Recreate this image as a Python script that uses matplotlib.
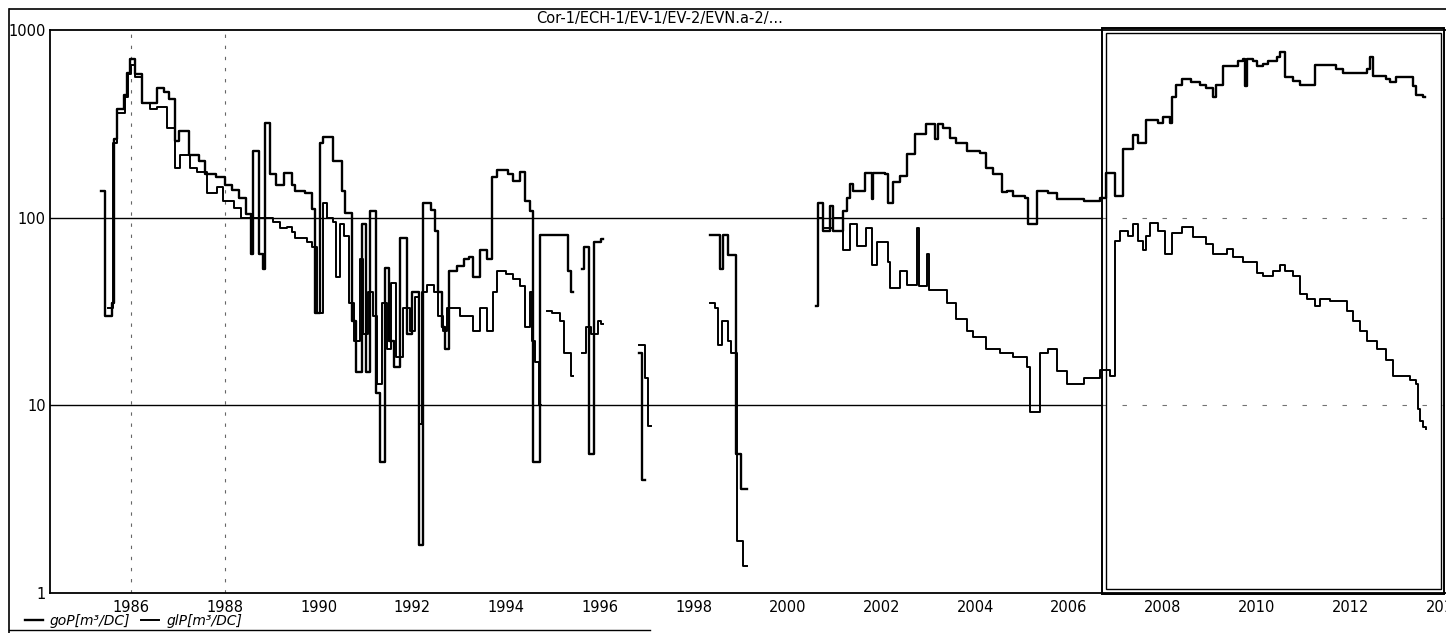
import numpy as np
import matplotlib
matplotlib.use("Agg")
import matplotlib.pyplot as plt
from matplotlib.lines import Line2D
from matplotlib.patches import Rectangle
import matplotlib.transforms as mtransforms

nan = np.nan

# goP [m3/DC] - step series, nan = no data
gop_year = [1985.35, 1985.45, 1985.60, 1985.64, 1985.70, 1985.84, 1985.92, 1985.98, 1986.09, 1986.23,
            1986.55, 1986.70, 1986.80, 1986.94, 1987.02, 1987.24, 1987.45, 1987.58, 1987.80, 1988.00,
            1988.15, 1988.30, 1988.45, 1988.55, 1988.60, 1988.72, 1988.82, 1988.86, 1988.96, 1989.10,
            1989.25, 1989.43, 1989.50, 1989.70, 1989.85, 1989.92, 1990.03, 1990.10, 1990.31, 1990.49,
            1990.56, 1990.71, 1990.80, 1990.92, 1991.00, 1991.10, 1991.22, 1991.30, 1991.42, 1991.50,
            1991.60, 1991.73, 1991.88, 1992.00, 1992.13, 1992.22, 1992.40, 1992.48, 1992.55, 1992.62,
            1992.70, 1992.78, 1992.95, 1993.10, 1993.20, 1993.30, 1993.44, 1993.58, 1993.69, 1993.80,
            1994.04, 1994.15, 1994.30, 1994.41, 1994.50, 1994.58, 1994.72, 1995.31, 1995.38, 1995.42, 1995.43,
            1995.61, 1995.66, 1995.76, 1995.87, 1996.02, 1996.05, 1996.06,
            1996.84, 1996.90, 1996.95, 1996.96,
            1998.34, 1998.56, 1998.62, 1998.72, 1998.90, 1999.00, 1999.12, 1999.13,
            2000.60, 2000.64, 2000.76, 2000.90, 2000.97, 2001.19, 2001.26, 2001.33, 2001.40, 2001.65,
            2001.79, 2001.83, 2002.07, 2002.14, 2002.25, 2002.40, 2002.54, 2002.72, 2002.96, 2003.14,
            2003.21, 2003.32, 2003.46, 2003.60, 2003.82, 2004.10, 2004.24, 2004.39, 2004.57, 2004.67,
            2004.81, 2005.06, 2005.13, 2005.31, 2005.56, 2005.74, 2006.31, 2006.66, 2006.80, 2006.98,
            2007.16, 2007.37, 2007.48, 2007.65, 2007.90, 2008.01, 2008.15, 2008.19, 2008.29, 2008.40,
            2008.61, 2008.79, 2008.93, 2009.07, 2009.14, 2009.29, 2009.61, 2009.71, 2009.75, 2009.80,
            2009.93, 2010.00, 2010.14, 2010.25, 2010.43, 2010.50, 2010.61, 2010.78, 2010.93, 2011.24,
            2011.70, 2011.85, 2012.35, 2012.42, 2012.49, 2012.77, 2012.84, 2012.98, 2013.34, 2013.41,
            2013.55, 2013.60]
gop_val = [139, 30, 35, 264, 380, 450, 590, 700, 580, 410,
           490, 470, 430, 257, 290, 215, 200, 170, 165, 150,
           140, 128, 105, 64, 227, 64, 53, 320, 170, 150,
           173, 150, 139, 135, 111, 31, 250, 270, 200, 139,
           106, 28, 15, 93, 15, 109, 11.6, 5, 54, 22,
           16, 78, 24, 40, 1.8, 120, 110, 85, 40, 26,
           20, 52, 55, 60, 62, 48, 67, 60, 165, 180,
           170, 157, 175, 123, 109, 5, 81, 52, 40, 40, nan,
           53, 70, 5.5, 74, 77, 77, nan,
           19, 4, 4, nan,
           81, 53, 81, 63, 5.5, 3.6, 3.6, nan,
           34, 119, 85, 116, 85, 109, 128, 152, 139, 174,
           126, 174, 170, 119, 154, 167, 218, 280, 315, 263,
           315, 300, 265, 250, 227, 222, 184, 170, 137, 139,
           131, 128, 92, 139, 135, 126, 123, 128, 173, 130,
           232, 275, 250, 330, 320, 345, 320, 440, 510, 550,
           530, 510, 490, 440, 510, 640, 680, 700, 500, 700,
           680, 640, 660, 680, 720, 760, 560, 535, 510, 650,
           620, 590, 620, 720, 570, 550, 530, 560, 500, 450,
           440, 440]

# glP [m3/DC]
glp_year = [1985.50, 1985.62, 1985.70, 1985.86, 1985.94, 1986.00, 1986.09, 1986.23, 1986.41, 1986.55,
            1986.76, 1986.94, 1987.04, 1987.26, 1987.40, 1987.61, 1987.83, 1987.95, 1988.20, 1988.35,
            1988.60, 1989.03, 1989.18, 1989.32, 1989.43, 1989.50, 1989.75, 1989.85, 1989.96, 1990.10,
            1990.17, 1990.30, 1990.36, 1990.45, 1990.55, 1990.65, 1990.75, 1990.88, 1990.95, 1991.05,
            1991.15, 1991.25, 1991.35, 1991.45, 1991.55, 1991.65, 1991.80, 1991.95, 1992.05, 1992.13,
            1992.20, 1992.30, 1992.45, 1992.55, 1992.66, 1992.73, 1993.02, 1993.30, 1993.45, 1993.58,
            1993.72, 1993.80, 1994.00, 1994.15, 1994.30, 1994.41, 1994.50, 1994.55, 1994.62, 1994.70,
            1994.74, 1994.75,
            1994.86, 1994.97, 1995.15, 1995.23, 1995.38, 1995.42, 1995.43,
            1995.61, 1995.70, 1995.80, 1995.95, 1996.02, 1996.05, 1996.06,
            1996.84, 1996.95, 1997.02, 1997.07, 1997.08,
            1998.34, 1998.45, 1998.52, 1998.60, 1998.72, 1998.79, 1998.92, 1999.05, 1999.12, 1999.13,
            2000.64, 2000.76, 2000.97, 2001.19, 2001.33, 2001.47, 2001.68, 2001.79, 2001.90, 2002.14,
            2002.18, 2002.40, 2002.54, 2002.75, 2002.80, 2002.97, 2003.02, 2003.39, 2003.60, 2003.82,
            2003.96, 2004.24, 2004.53, 2004.81, 2005.10, 2005.17, 2005.38, 2005.56, 2005.74, 2005.95,
            2006.31, 2006.66, 2006.87, 2006.98, 2007.09, 2007.26, 2007.37, 2007.48, 2007.58, 2007.65,
            2007.72, 2007.90, 2008.05, 2008.19, 2008.40, 2008.65, 2008.93, 2009.07, 2009.36, 2009.50,
            2009.71, 2010.00, 2010.14, 2010.36, 2010.50, 2010.61, 2010.78, 2010.93, 2011.07, 2011.24,
            2011.35, 2011.56, 2011.92, 2012.06, 2012.20, 2012.35, 2012.56, 2012.77, 2012.91, 2013.27,
            2013.41, 2013.45, 2013.48, 2013.55, 2013.62]
glp_val = [33, 250, 360, 440, 580, 650, 560, 410, 380, 390,
           300, 185, 215, 185, 175, 135, 145, 123, 112, 100,
           100, 95, 88, 89, 84, 78, 74, 70, 31, 120,
           100, 95, 48, 92, 80, 35, 22, 60, 24, 40,
           30, 13, 35, 20, 45, 18, 33, 25, 38, 8,
           40, 44, 40, 30, 25, 33, 30, 25, 33, 25,
           40, 52, 50, 47, 43, 26, 40, 22, 17, 10,
           10, nan,
           32, 31, 28, 19, 14.3, 14.3, nan,
           19, 26, 24, 28, 27, 27, nan,
           21, 14, 7.8, 7.8, nan,
           35, 33, 21, 28, 22, 19, 1.9, 1.4, 1.4, nan,
           100, 88, 100, 67, 92, 71, 88, 56, 74, 58,
           42, 52, 44, 88, 43, 64, 41, 35, 29, 25,
           23, 20, 19, 18, 16, 9.2, 19, 20, 15.3, 13,
           14, 15.4, 14.3, 75, 85, 80, 92, 75, 67, 80,
           94, 85, 64, 83, 89, 79, 72, 64, 68, 62,
           58, 51, 49, 52, 56, 52, 49, 39, 37, 34,
           37, 36, 32, 28, 25, 22, 20, 17.4, 14.3, 13.6,
           13, 9.6, 8.3, 7.7, 7.5]

x_ticks = list(range(1986, 2016, 2))
y_ticks = [1, 10, 100, 1000]
y_labels = ["1", "10", "100", "1000"]
title = "Cor-1/ECH-1/EV-1/EV-2/EVN.a-2/..."
box_years = (2006.70, 2014.0)

plt.rcParams['font.family'] = ['DejaVu Sans']

fig = plt.figure(figsize=(14.46, 6.33), dpi=100)
W, H = 1446, 633
ax = fig.add_axes([50 / W, 1 - 593 / H, (W - 50) / W, (593 - 30) / H])

ax.set_yscale("log")
ax.set_ylim(1, 1000)
ax.set_xlim(1984.27, 2014.04)

l1, = ax.step(gop_year, np.array(gop_val, dtype=float), where="post", color="black", lw=1.7)
l2, = ax.step(glp_year, np.array(glp_val, dtype=float), where="post", color="black", lw=1.4)

# horizontal grid at 10 and 100: solid up to the box, broken inside it
for v in (10, 100):
    ax.plot([1984.27, box_years[0]], [v, v], color="black", lw=1.0, zorder=1)
    ax.plot([box_years[0], box_years[1]], [v, v], color="0.45", lw=0.8,
            dashes=(4, 14), zorder=1)

for yr in (1986, 1988):
    ax.axvline(yr, color="0.4", lw=0.8, dashes=(3, 7), zorder=0)

ax.set_yticks(y_ticks)
ax.set_yticklabels(y_labels)
ax.yaxis.set_minor_locator(matplotlib.ticker.NullLocator())
ax.set_xticks(x_ticks)
ax.set_xticklabels([str(t) for t in x_ticks])
ax.tick_params(axis="both", length=0, labelsize=10.5)
ax.tick_params(axis="x", pad=5)
ax.tick_params(axis="y", pad=3)
ax.spines["right"].set_visible(False)
for s in ("left", "top", "bottom"):
    ax.spines[s].set_linewidth(1.3)

# selection box (double frame)
trans = mtransforms.blended_transform_factory(ax.transData, ax.transAxes)
ax.add_patch(Rectangle((box_years[0], -0.002), box_years[1] - box_years[0], 1.005,
                       transform=trans, fill=False, lw=1.4, ec="black", clip_on=False))
ax.add_patch(Rectangle((box_years[0] + 0.09, 0.007), box_years[1] - box_years[0] - 0.15, 0.987,
                       transform=trans, fill=False, lw=1.0, ec="black", clip_on=False))

# window frame lines
fig.add_artist(Line2D([10 / W, 1], [1 - 9 / H] * 2, color="black", lw=1.2))
fig.add_artist(Line2D([9 / W, 9 / W], [1 - 9 / H, 0], color="black", lw=1.2))
fig.add_artist(Line2D([9 / W, 650 / W], [1 - 630 / H] * 2, color="black", lw=1.0))

fig.text(660 / W, 1 - 19 / H, title, ha="center", va="center", fontsize=10.5)

fig.legend([l1, l2], ["goP[m³/DC]", "glP[m³/DC]"], loc="lower left",
           bbox_to_anchor=(12 / W, -0.012), ncol=2, frameon=False, handlelength=1.3,
           handletextpad=0.5, columnspacing=0.8, prop={"style": "italic", "size": 10})

fig.savefig("out.png", dpi=100)
